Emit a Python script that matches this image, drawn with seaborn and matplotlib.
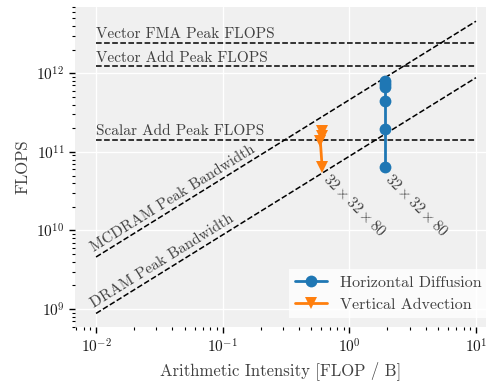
import numpy as np
import pandas as pd
import matplotlib
matplotlib.use('Agg')
import matplotlib.pyplot as plt
import seaborn as sns

# roofline ceilings
peak_names = ['Vector FMA Peak FLOPS', 'Vector Add Peak FLOPS', 'Scalar Add Peak FLOPS']
peak_flops = [2.42e12, 1.23e12, 1.43e11]
bw_names = ['MCDRAM Peak Bandwidth', 'DRAM Peak Bandwidth']
bw_bytes = [4.6e11, 8.8e10]
ai_range = [0.01, 10.0]

# measured kernels
hd_ai = [1.9, 1.9, 1.9, 1.9, 1.9, 1.9]
hd_flops = [8.1e11, 7.4e11, 6.6e11, 4.4e11, 1.97e11, 6.4e10]
va_ai = [0.61, 0.61, 0.59, 0.61]
va_flops = [1.86e11, 1.6e11, 1.38e11, 6.4e10]
domain_label = r'$32 \times 32 \times 80$'

df = pd.DataFrame({
    'ai': hd_ai + va_ai,
    'flops': hd_flops + va_flops,
    'kernel': ['Horizontal Diffusion'] * len(hd_ai) + ['Vertical Advection'] * len(va_ai),
})

sns.set_style('darkgrid', {'axes.facecolor': '#f0f0f0', 'grid.color': 'white',
                           'xtick.bottom': True, 'ytick.left': True})
plt.rcParams['font.family'] = 'cmr10'
plt.rcParams['mathtext.fontset'] = 'cm'
plt.rcParams['axes.formatter.use_mathtext'] = True
plt.rcParams['axes.unicode_minus'] = False

fig = plt.figure(figsize=(4.86, 3.83), dpi=100)
ax = fig.add_axes([0.154, 0.146, 0.846, 0.836])
ax.set_xscale('log')
ax.set_yscale('log')
ax.set_xlim(0.0068, 12)
ax.set_ylim(5.9e8, 7.0e12)

txt_color = '0.25'
for name, p in zip(peak_names, peak_flops):
    ax.plot(ai_range, [p, p], 'k--', lw=1.1)
    ax.text(ai_range[0], p * 1.05, name, ha='left', va='bottom', fontsize=11, color=txt_color)

for name, bw in zip(bw_names, bw_bytes):
    ys = [bw * a for a in ai_range]
    ax.plot(ai_range, ys, 'k--', lw=1.1)
    p0 = ax.transData.transform((ai_range[0], ys[0]))
    p1 = ax.transData.transform((ai_range[1], ys[1]))
    ang = np.degrees(np.arctan2(p1[1] - p0[1], p1[0] - p0[0]))
    ax.text(ai_range[0], ys[0] * 1.08, name, ha='left', va='bottom', fontsize=11,
            color=txt_color, rotation=ang, rotation_mode='anchor')

sns.lineplot(data=df, x='ai', y='flops', hue='kernel', style='kernel',
             markers={'Horizontal Diffusion': 'o', 'Vertical Advection': 'v'},
             dashes=False, estimator=None, sort=False, lw=2, markersize=8.5,
             markeredgewidth=0, palette=['#1f77b4', '#ff7f0e'], ax=ax)

for a, f in [(va_ai[-1], va_flops[-1]), (hd_ai[-1], hd_flops[-1])]:
    ax.annotate(domain_label, (a, f), xytext=(6, -3), textcoords='offset points',
                ha='left', va='top', rotation=-45, rotation_mode='anchor',
                fontsize=11, color=txt_color)

ax.grid(True, which='major', color='white', lw=1)
ax.tick_params(which='major', length=4, width=1, color='k', direction='out',
               labelsize=11, labelcolor='0.1')
ax.tick_params(which='minor', length=2.5, width=0.8, color='k', direction='out',
               bottom=True, left=True)
for s in ax.spines.values():
    s.set_visible(False)

ax.set_xlabel('Arithmetic Intensity [FLOP / B]', fontsize=12, color=txt_color)
ax.set_ylabel('FLOPS', fontsize=12, color=txt_color)
leg = ax.legend(loc='lower right', bbox_to_anchor=(1.005, 0.028), borderaxespad=0,
                fontsize=11.5, frameon=True, facecolor='white', framealpha=0.8,
                edgecolor='none', fancybox=False, handletextpad=0.8)
for t in leg.get_texts():
    t.set_color(txt_color)

fig.savefig('out.png', dpi=100)
